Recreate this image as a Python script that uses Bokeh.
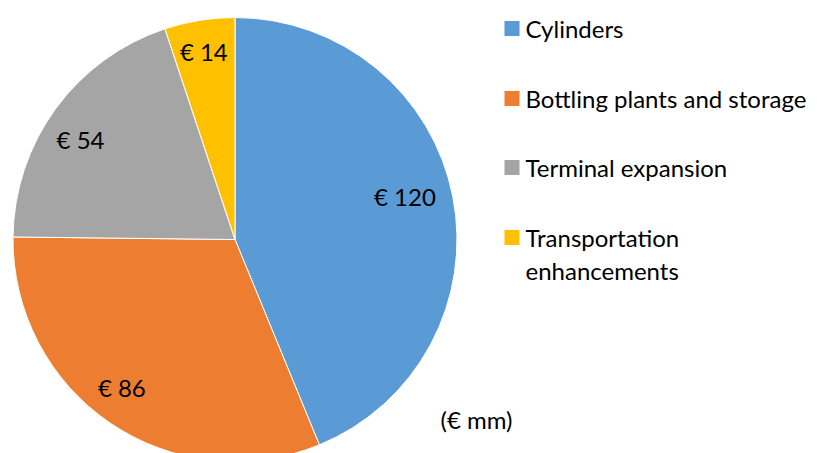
import math
from bokeh.plotting import figure
from bokeh.models import Range1d, ColumnDataSource
from bokeh.core.properties import value
from bokeh.embed import file_html
from bokeh.resources import INLINE

categories = ["Cylinders", "Bottling plants and storage", "Terminal expansion", "Transportation enhancements"]
legend_lines = [["Cylinders"], ["Bottling plants and storage"], ["Terminal expansion"], ["Transportation", "enhancements"]]
values = [120, 86, 54, 14]
colors = ["#5B9BD5", "#ED7D31", "#A5A5A5", "#FFC000"]
unit_label = "(€ mm)"

# label placement style (fraction of radius, angular nudge in degrees)
label_radius = [0.79, 0.84, 0.83, 0.86]
label_nudge_deg = [-3.1, 3.2, -3.1, -0.2]

W, H = 817, 453
FONT = "Lato"
FS = "24px"

p = figure(width=W, height=H, output_backend="svg", toolbar_location=None,
           x_range=Range1d(0, W), y_range=Range1d(0, H), min_border=0)
p.axis.visible = False
p.grid.visible = False
p.outline_line_color = None
p.background_fill_color = "white"

cx, cy, R = 234.5, H - 239.0, 222.0
total = float(sum(values))
starts, ends, lx, ly, labels = [], [], [], [], []
cum = 0.0
for i, v in enumerate(values):
    a0 = math.pi / 2 - cum / total * 2 * math.pi
    a1 = math.pi / 2 - (cum + v) / total * 2 * math.pi
    starts.append(a0)
    ends.append(a1)
    mid = (a0 + a1) / 2 - math.radians(label_nudge_deg[i])
    lx.append(cx + label_radius[i] * R * math.cos(mid))
    ly.append(cy + label_radius[i] * R * math.sin(mid))
    labels.append("€ %d" % v)
    cum += v

src = ColumnDataSource(dict(start=starts, end=ends, color=colors))
p.wedge(x=cx, y=cy, radius=R, start_angle="start", end_angle="end", direction="clock",
        fill_color="color", line_color="white", line_width=1, source=src)

p.text(x=lx, y=ly, text=labels, text_font=value(FONT), text_font_size=FS,
       text_color="black", text_align="center", text_baseline="middle")

# legend
leg_x = 504.0
row_y = [H - 28, H - 98, H - 167, H - 237]
for i, lines in enumerate(legend_lines):
    p.rect(x=leg_x + 7.5, y=row_y[i], width=15, height=15, fill_color=colors[i], line_color=None)
    for j, t in enumerate(lines):
        p.text(x=[leg_x + 21], y=[row_y[i] - 33 * j], text=[t], text_font=value(FONT), text_font_size=FS,
               text_color="black", text_align="left", text_baseline="middle")

p.text(x=[440], y=[H - 419], text=[unit_label], text_font=value(FONT), text_font_size=FS,
       text_color="black", text_align="left", text_baseline="middle")

open("out.html", "w").write(file_html(p, INLINE))
